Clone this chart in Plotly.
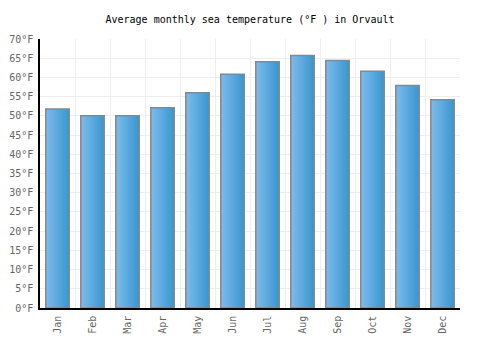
import plotly.graph_objects as go

months = ["Jan", "Feb", "Mar", "Apr", "May", "Jun", "Jul", "Aug", "Sep", "Oct", "Nov", "Dec"]
temps_f = [51.8, 50.0, 50.0, 52.1, 56.0, 60.8, 64.1, 65.7, 64.4, 61.6, 57.9, 54.2]
y_ticks = list(range(0, 75, 5))
y_labels = [f"{v}°F" for v in y_ticks]

fig = go.Figure()

bar_w = 0.67
n_slices = 12
c0 = (124, 186, 236)
c1 = (58, 152, 208)
sw = bar_w / n_slices
for i in range(n_slices):
    t = i / (n_slices - 1)
    col = tuple(round(a + (b - a) * t) for a, b in zip(c0, c1))
    w = min(3 * sw, bar_w - i * sw)
    fig.add_trace(go.Bar(
        x=months, y=temps_f,
        width=w, offset=-bar_w / 2 + i * sw,
        marker=dict(color=f"rgb{col}", line=dict(width=0)),
        hoverinfo="skip", showlegend=False,
    ))

fig.add_trace(go.Bar(
    x=months, y=temps_f, width=bar_w, offset=-bar_w / 2,
    marker=dict(color="rgba(0,0,0,0)", line=dict(color="#888888", width=1.5)),
    showlegend=False, name="Sea temperature",
))

fig.update_layout(
    barmode="overlay",
    width=500, height=350,
    margin=dict(l=40, r=40, t=39, b=42),
    paper_bgcolor="white", plot_bgcolor="white",
    font=dict(family="DejaVu Sans Mono", size=10, color="#666666"),
    title=dict(text="Average monthly sea temperature (°F ) in Orvault",
               x=0.5, xanchor="center", y=0.943, yanchor="middle",
               font=dict(family="DejaVu Sans Mono", size=10, color="#000000")),
    xaxis=dict(type="category", tickson="boundaries", showgrid=True,
               gridcolor="#eeeeee", gridwidth=1, tickangle=-90,
               showline=True, linecolor="#000000", linewidth=1.5,
               ticks="", range=[-0.5, 11.5], ticklabelstandoff=2,
               automargin=False,
               tickfont=dict(family="DejaVu Sans Mono", size=10, color="#666666")),
    yaxis=dict(range=[0, 70], tickvals=y_ticks, ticktext=y_labels,
               showgrid=True, gridcolor="#eeeeee", gridwidth=1,
               showline=True, linecolor="#000000", linewidth=1.5,
               zeroline=False, ticks="", ticklabelstandoff=3,
               automargin=False,
               tickfont=dict(family="DejaVu Sans Mono", size=10, color="#666666")),
)

fig.write_html("out.html")
